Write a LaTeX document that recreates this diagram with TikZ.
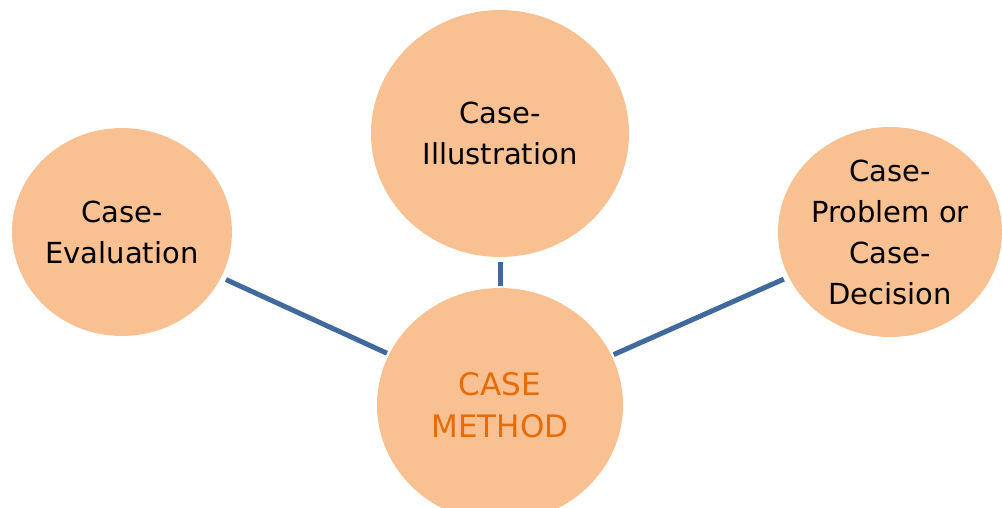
\documentclass[tikz,border=0pt]{standalone}
\usepackage{fontspec}
\setmainfont{DejaVu Sans}
\usetikzlibrary{shapes.geometric}
\definecolor{bubble}{HTML}{F9C091}
\definecolor{spokeblue}{HTML}{41699B}
\definecolor{hubtext}{HTML}{E46C0A}
\tikzset{
	topic/.style={ellipse, fill=bubble, inner sep=0pt, align=center, font=\fontsize{14.5}{20.5}\selectfont},
	spoke/.style={line width=2.5pt, draw=spokeblue, shorten <=2.5pt, shorten >=1pt}
}

\begin{document}
\begin{tikzpicture}[x=0.5pt, y=-0.5pt]
			%%%%% START %%%%%
			
			\clip (0, 0) rectangle (1002, 508);
			
			\node[topic, minimum width=110pt, minimum height=104pt] (eval) at (122, 232) {Case-\\Evaluation};
			\node[topic, minimum width=129pt, minimum height=123.5pt] (illus) at (500, 133.5) {Case-\\Illustration};
			\node[topic, minimum width=112pt, minimum height=105pt] (prob) at (890, 232) {Case-\\Problem or\\Case-\\Decision};
			
			\node[topic, minimum width=123pt, minimum height=117pt, text=hubtext, font=\fontsize{15.5}{21}\selectfont] (hub) at (500, 405) {CASE\\METHOD};
			
			\draw[spoke] (eval) -- (hub);
			\draw[spoke] (illus) -- (hub);
			\draw[spoke] (prob) -- (hub);
			
			%%%%% END %%%%%
\end{tikzpicture}
\end{document}
